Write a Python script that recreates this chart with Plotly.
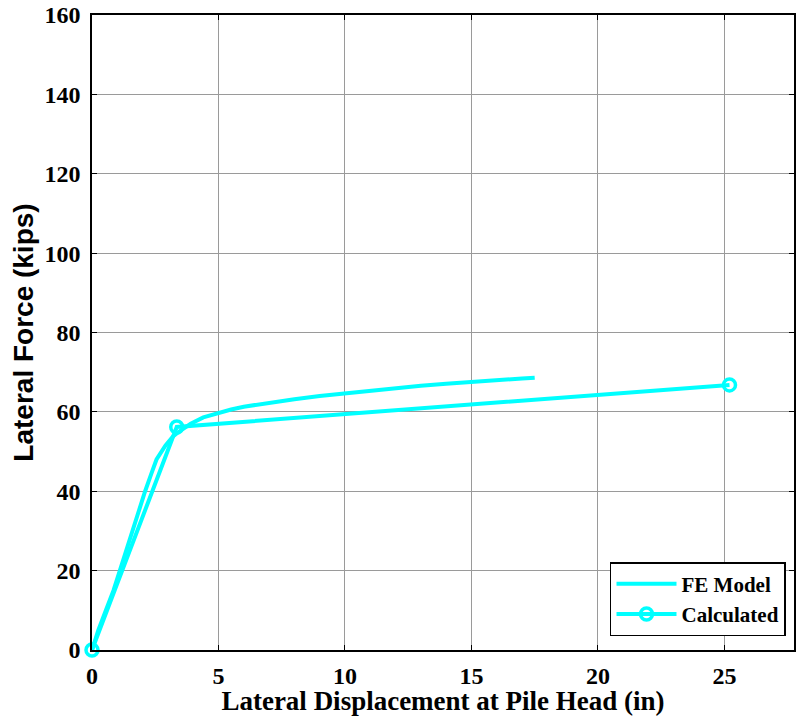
import plotly.graph_objects as go

# FE model pushover response (displacement in inches, force in kips)
fe_disp = [0, 0.25, 0.55, 0.85, 1.1, 1.35, 1.56, 1.85, 2.1, 2.35, 2.55, 2.9, 3.2, 3.5,
           3.9, 4.4, 5.0, 5.5, 6.0, 7.0, 8.0, 9.0, 10.0, 11.0, 12.0, 13.0, 14.0,
           15.0, 16.0, 17.0, 17.5]
fe_force = [0, 5, 10, 15, 20, 25, 30, 35, 40, 44.5, 48, 51.5, 53.8, 55.3,
            57.0, 58.6, 59.8, 60.6, 61.3, 62.3, 63.2, 64.0, 64.7, 65.4, 66.0, 66.6, 67.1,
            67.6, 68.0, 68.4, 68.6]

# Calculated bilinear response
calc_disp = [0, 3.35, 25.2]
calc_force = [0, 56.2, 66.8]

x_ticks = [0, 5, 10, 15, 20, 25]
y_ticks = [0, 20, 40, 60, 80, 100, 120, 140, 160]

cyan = "#00FFFF"
serif = "Liberation Serif, Times New Roman, serif"
sans = "Liberation Sans, Arial, sans-serif"

fig = go.Figure()
fig.add_trace(go.Scatter(
    x=fe_disp, y=fe_force, mode="lines", name="FE Model",
    line=dict(color=cyan, width=4),
))
fig.add_trace(go.Scatter(
    x=calc_disp, y=calc_force, mode="lines+markers", name="Calculated",
    line=dict(color=cyan, width=4), cliponaxis=False,
    marker=dict(symbol="circle-open", size=12, color=cyan, line=dict(width=3.5, color=cyan)),
))

axis_common = dict(
    showline=True, linecolor="black", linewidth=1.5, mirror="ticks",
    ticks="inside", ticklen=5, tickwidth=1, tickcolor="black",
    showgrid=True, gridcolor="#9a9a9a", gridwidth=1,
    zeroline=False,
    tickfont=dict(family=serif, size=24, color="black", weight="bold"),
)

fig.update_xaxes(
    range=[0, 27.75], tickvals=x_ticks, ticktext=[str(v) for v in x_ticks],
    ticklabelstandoff=3,
    title=dict(text="Lateral Displacement at Pile Head (in)",
               font=dict(family=serif, size=27, color="black", weight="bold"),
               standoff=2),
    **axis_common,
)
fig.update_yaxes(
    range=[0, 160], tickvals=y_ticks, ticktext=[str(v) for v in y_ticks],
    ticklabelstandoff=5,
    title=dict(text="Lateral Force (kips)",
               font=dict(family=sans, size=28, color="black", weight="bold"),
               standoff=3),
    **axis_common,
)

fig.update_layout(
    width=796, height=716,
    margin=dict(l=92, r=0, t=15, b=66),
    paper_bgcolor="white", plot_bgcolor="white",
    showlegend=True,
    legend=dict(
        x=0.9886, y=0.022, xanchor="right", yanchor="bottom",
        bgcolor="white", bordercolor="black", borderwidth=1.5,
        font=dict(family=serif, size=21, color="black", weight="bold"),
        itemwidth=60, tracegroupgap=0,
    ),
)

fig.write_html("out.html")
